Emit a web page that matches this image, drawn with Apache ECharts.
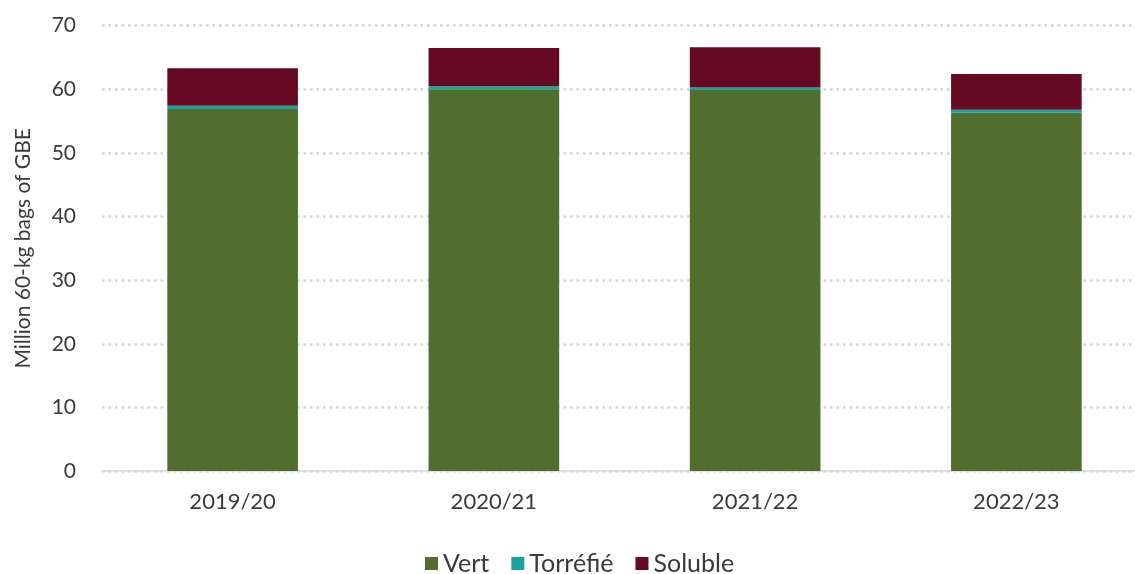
<!DOCTYPE html>
<html>
<head>
<meta charset="utf-8">
<script src="https://cdn.jsdelivr.net/npm/echarts@6/dist/echarts.min.js"></script>
<style>html,body{margin:0;padding:0;background:#fff;}#c{width:1135px;height:574px;}</style>
</head>
<body>
<div id="c"></div>
<script>
var categories = ['2019/20', '2020/21', '2021/22', '2022/23'];
var vert = [56.9, 60.0, 59.9, 56.3];
var torrefie = [0.5, 0.5, 0.4, 0.5];
var soluble = [5.9, 6.0, 6.3, 5.6];
var yTicks = [0, 10, 20, 30, 40, 50, 60, 70];

var FONT = 'Lato';
var chart = echarts.init(document.getElementById('c'), null, {renderer: 'canvas'});
chart.setOption({
  animation: false,
  textStyle: {fontFamily: FONT},
  grid: {left: 102, top: 25.7, bottom: 103, right: -12, containLabel: false, outerBoundsMode: 'none'},
  legend: {
    top: 546, left: 420,
    itemWidth: 13, itemHeight: 13, itemGap: 22,
    icon: 'rect',
    textStyle: {fontFamily: FONT, fontSize: 25, color: '#3a3a3a'},
    data: ['Vert', 'Torréfié', 'Soluble']
  },
  xAxis: {
    type: 'category',
    data: categories,
    axisTick: {show: false},
    axisLine: {lineStyle: {color: '#d9d9d9', width: 1.5}},
    axisLabel: {fontFamily: FONT, fontSize: 22, color: '#3a3a3a', margin: 20}
  },
  yAxis: {
    type: 'value',
    min: yTicks[0], max: yTicks[yTicks.length - 1], interval: 10,
    name: 'Million 60-kg bags of GBE',
    nameLocation: 'middle',
    nameGap: 68,
    nameTextStyle: {fontFamily: FONT, fontSize: 21, color: '#3a3a3a'},
    axisLine: {show: false},
    axisTick: {show: false},
    axisLabel: {fontFamily: FONT, fontSize: 21, color: '#3a3a3a', margin: 26},
    splitLine: {lineStyle: {color: '#d3d3d3', width: 2.5, type: [2.5, 4]}}
  },
  series: [
    {name: 'Vert', type: 'bar', stack: 't', data: vert, barWidth: '50%', itemStyle: {color: '#506E2D'}},
    {name: 'Torréfié', type: 'bar', stack: 't', data: torrefie, itemStyle: {color: '#17A3A0'}},
    {name: 'Soluble', type: 'bar', stack: 't', data: soluble, itemStyle: {color: '#650A22'}}
  ]
});
</script>
</body>
</html>
